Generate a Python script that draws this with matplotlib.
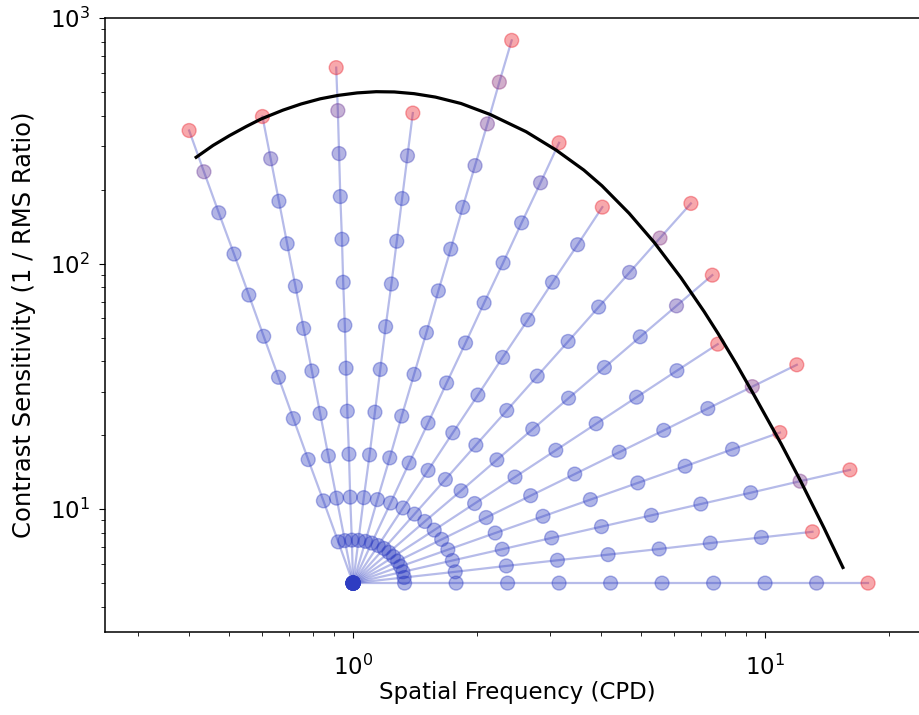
import matplotlib.pyplot as plt
import numpy as np

# probe positions along each search ray, as log10 values
# (spatial frequency in CPD, contrast sensitivity); last probe of a ray = miss
ray_log_sf = [
    [0, .125, .25, .375, .5, .625, .75, .875, 1.0, 1.125, 1.25],
    [0, .124, .248, .372, .496, .619, .743, .867, .991, 1.115],
    [0, .121, .241, .362, .482, .603, .724, .844, .965, 1.085, 1.206],
    [0, .115, .230, .345, .461, .576, .691, .806, .921, 1.036],
    [0, .108, .215, .323, .431, .538, .646, .754, .861, .969, 1.077],
    [0, .098, .197, .295, .393, .492, .590, .688, .786, .885],
    [0, .087, .174, .262, .349, .436, .523, .610, .697, .785, .872],
    [0, .075, .149, .224, .298, .373, .447, .522, .596, .671, .745, .820],
    [0, .061, .121, .182, .242, .303, .363, .424, .484, .545, .605],
    [0, .045, .091, .136, .182, .227, .273, .318, .364, .409, .455, .500],
    [0, .030, .059, .089, .118, .148, .178, .207, .237, .266, .296, .326, .355, .385],
    [0, .013, .026, .040, .053, .066, .079, .093, .106, .119, .132, .145],
    [0, -.003, -.007, -.010, -.014, -.017, -.020, -.024, -.027, -.031, -.034, -.037, -.041],
    [0, -.020, -.040, -.060, -.080, -.100, -.120, -.140, -.160, -.180, -.200, -.220],
    [0, -.036, -.072, -.109, -.145, -.181, -.217, -.253, -.289, -.326, -.362, -.398],
]
ray_log_cs = [
    [.699, .699, .699, .699, .699, .699, .699, .699, .699, .699, .699],
    [.699, .722, .745, .769, .792, .815, .838, .862, .885, .908],
    [.699, .745, .791, .837, .883, .929, .975, 1.021, 1.067, 1.114, 1.160],
    [.699, .767, .835, .903, .971, 1.039, 1.107, 1.175, 1.244, 1.312],
    [.699, .788, .877, .966, 1.055, 1.143, 1.232, 1.321, 1.410, 1.499, 1.588],
    [.699, .807, .915, 1.023, 1.131, 1.240, 1.348, 1.456, 1.564, 1.672],
    [.699, .824, .950, 1.075, 1.201, 1.326, 1.452, 1.577, 1.702, 1.828, 1.953],
    [.699, .840, .980, 1.121, 1.261, 1.402, 1.542, 1.683, 1.823, 1.964, 2.104, 2.245],
    [.699, .852, 1.005, 1.158, 1.311, 1.465, 1.618, 1.771, 1.924, 2.077, 2.230],
    [.699, .862, 1.025, 1.188, 1.351, 1.514, 1.677, 1.840, 2.003, 2.166, 2.329, 2.492],
    [.699, .869, 1.039, 1.209, 1.379, 1.549, 1.719, 1.889, 2.059, 2.229, 2.399, 2.569, 2.739, 2.909],
    [.699, .873, 1.047, 1.221, 1.395, 1.569, 1.743, 1.917, 2.091, 2.265, 2.439, 2.613],
    [.699, .874, 1.049, 1.224, 1.399, 1.574, 1.749, 1.924, 2.099, 2.273, 2.448, 2.623, 2.798],
    [.699, .872, 1.045, 1.217, 1.390, 1.563, 1.736, 1.908, 2.081, 2.254, 2.427, 2.599],
    [.699, .867, 1.034, 1.202, 1.369, 1.537, 1.704, 1.872, 2.039, 2.207, 2.374, 2.542],
]

# estimated CSF curve
csf_sf = [0.416, 0.457, 0.501, 0.550, 0.598, 0.676, 0.748, 0.832, 0.920, 1.023, 1.138,
          1.259, 1.406, 1.585, 1.828, 2.153, 2.630, 3.112, 3.631, 4.018, 4.677, 5.383,
          6.252, 7.112, 7.691, 8.511, 9.397, 10.94, 12.22, 13.90, 15.45]
csf_cs = [271.0, 302.7, 331.9, 361.4, 388.1, 421.7, 446.7, 468.8, 484.2, 495.5, 501.2,
          500.0, 492.0, 476.4, 448.7, 404.6, 344.4, 289.7, 240.4, 207.5, 160.3, 121.9,
          87.5, 63.8, 51.9, 39.1, 29.2, 18.45, 12.94, 8.39, 5.79]

plt.rcParams['font.size'] = 16.5
plt.rcParams['axes.linewidth'] = 1.1
plt.rcParams['xtick.major.size'] = 4.5
plt.rcParams['ytick.major.size'] = 4.5
plt.rcParams['xtick.minor.size'] = 2.8
plt.rcParams['ytick.minor.size'] = 2.8
plt.rcParams['xtick.major.pad'] = 12
plt.rcParams['ytick.major.pad'] = 6.5

fig = plt.figure(figsize=(9.19, 7.15), dpi=100)
# right spine sits just past the image edge, as in the cropped original
ax = fig.add_axes([0.1143, 0.1161, 0.8966, 0.8587])

blue = np.array([0.18, 0.24, 0.76])
red = np.array([0.92, 0.10, 0.15])
curve_lx = np.log10(csf_sf)
curve_ly = np.log10(csf_cs)

for lx, ly in zip(ray_log_sf, ray_log_cs):
    lx = np.array(lx)
    ly = np.array(ly)
    # colour shifts toward red as the probe nears the curve, miss is red
    d = ly - np.interp(lx, curve_lx, curve_ly)
    t = 0.5 / (1 + np.exp(-(d + 0.1) / 0.08))
    t[-1] = 1.0
    cols = (1 - t)[:, None] * blue + t[:, None] * red
    ax.plot(10**lx, 10**ly, color=blue, alpha=0.35, lw=1.6, zorder=1)
    ax.scatter(10**lx, 10**ly, s=100, facecolors=cols, edgecolors=cols,
               linewidths=1, alpha=0.38, zorder=2)

ax.plot(csf_sf, csf_cs, color='k', lw=2.3, zorder=3)

ax.set_xscale('log')
ax.set_yscale('log')
ax.set_xlim(0.25, 25)
ax.set_ylim(10**0.5, 1000)
ax.set_xlabel('Spatial Frequency (CPD)', fontsize=16.5, labelpad=1)
ax.set_ylabel('Contrast Sensitivity (1 / RMS Ratio)', fontsize=17.5, labelpad=10)

fig.savefig('out.png', dpi=100)
